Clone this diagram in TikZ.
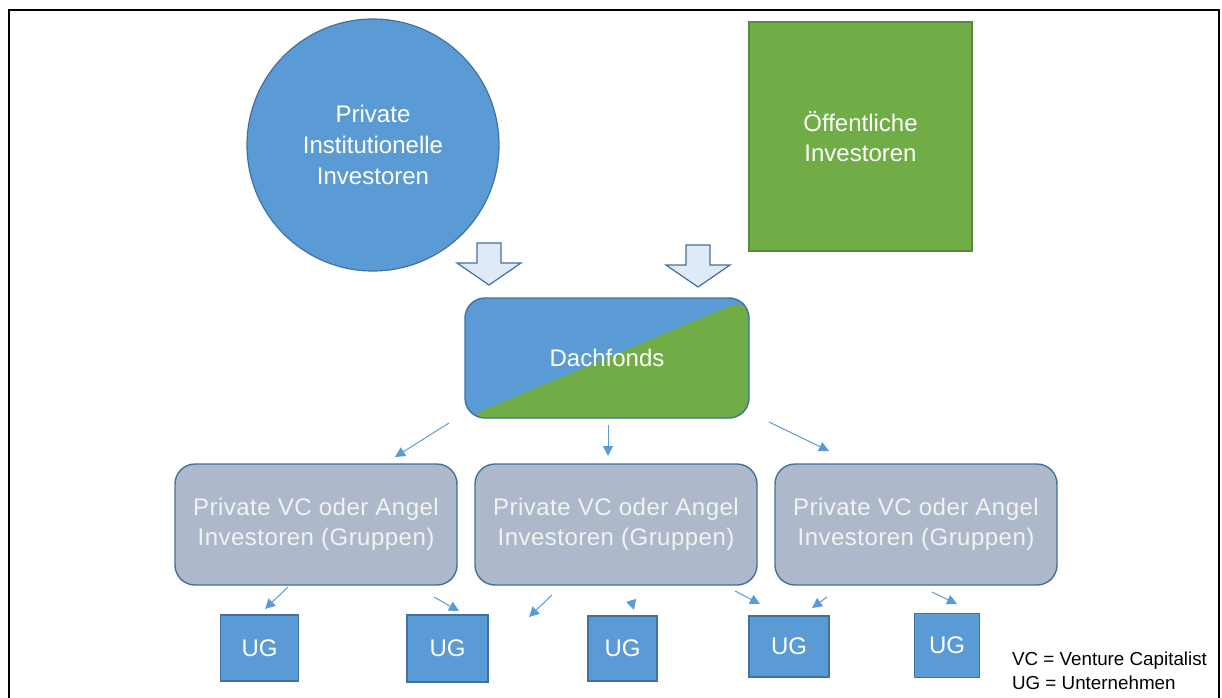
\documentclass[tikz,border=0pt]{standalone}
\usepackage{fontspec}
\setmainfont{Liberation Sans}
\usepackage{tikz}
\usetikzlibrary{arrows.meta,positioning}
\definecolor{ofblau}{HTML}{5B9BD5}
\definecolor{ofgruen}{HTML}{70AD47}
\definecolor{ofrand}{HTML}{41719C}
\definecolor{ofgrau}{HTML}{ADB9CA}
\definecolor{ofhell}{HTML}{DEEBF7}
\tikzset{
  kreis/.style={circle,fill=ofblau,draw=ofrand,line width=0.6pt,minimum size=126pt,text=white,align=center,font=\fontsize{12}{15.5}\selectfont},
  quadrat/.style={rectangle,fill=ofgruen,draw=ofgruen!80!black,line width=0.6pt,text=white,align=center,font=\fontsize{12}{15}\selectfont},
  vcbox/.style={rectangle,rounded corners=10pt,fill=ofgrau,draw=ofrand,line width=0.7pt,minimum width=141pt,minimum height=60.5pt,text=white!95!black,align=center,font=\fontsize{12}{15}\selectfont\addfontfeature{LetterSpace=2}},
  ugbox/.style={rectangle,fill=ofblau,draw=ofrand,line width=0.6pt,text=white,font=\fontsize{12}{15}\selectfont},
  pfeil/.style={draw=ofblau,line width=0.5pt,-{Triangle[length=5pt,width=5pt]}},
  blockpfeil/.style={fill=ofhell,draw=ofrand,line width=0.6pt,line join=miter}
}
% Blockpfeil nach unten: oberes Ende der Mitte
\newcommand{\blockpfeil}[1]{%
  \draw[blockpfeil] ($(#1)+(-12,0)$) -- ($(#1)+(12,0)$) -- ($(#1)+(12,20)$) -- ($(#1)+(32,20)$)
    -- ($(#1)+(0,42)$) -- ($(#1)+(-32,20)$) -- ($(#1)+(-12,20)$) -- cycle;}
\usetikzlibrary{calc}
\begin{document}
\begin{tikzpicture}[x=0.5pt,y=-0.5pt]
\useasboundingbox (0,0) rectangle (1222,697);
\draw[line width=1pt] (9,10) rectangle (1219,730);

% Investoren
\node[kreis] (priv) at (373,145) {Private\\Institutionelle\\Investoren};
\node[quadrat,minimum width=111.5pt,minimum height=114.5pt] (oeff) at (860.5,136.5) {\"Offentliche\\Investoren};

% Blockpfeile
\coordinate (bp1) at (489,243);
\coordinate (bp2) at (698,245);
\blockpfeil{bp1}
\blockpfeil{bp2}

% Dachfonds
\node[rectangle,rounded corners=10pt,fill=ofblau,draw=ofrand,line width=0.7pt,
  minimum width=142pt,minimum height=60pt,text=white,font=\fontsize{12}{15}\selectfont,
  path picture={\fill[ofgruen] (path picture bounding box.south west) -- (path picture bounding box.north east)
    -- (path picture bounding box.south east) -- cycle;}] (dach) at (607,358) {Dachfonds};

% VC / Angel
\node[vcbox] (vc1) at (316,524.5) {Private VC oder Angel\\Investoren (Gruppen)};
\node[vcbox] (vc2) at (616,524.5) {Private VC oder Angel\\Investoren (Gruppen)};
\node[vcbox] (vc3) at (916,524.5) {Private VC oder Angel\\Investoren (Gruppen)};

% Unternehmen
\node[ugbox,minimum width=39pt,minimum height=33pt] (ug1) at (259.5,648) {UG};
\node[ugbox,minimum width=40.5pt,minimum height=33.5pt] (ug2) at (447.5,648.5) {UG};
\node[ugbox,minimum width=34.5pt,minimum height=32.5pt] (ug3) at (622.5,648.5) {UG};
\node[ugbox,minimum width=40pt,minimum height=30.5pt] (ug4) at (789,646.5) {UG};
\node[ugbox,minimum width=32.5pt,minimum height=32pt] (ug5) at (947,645.5) {UG};

% Legende
\node[anchor=west,font=\fontsize{9.4}{11}\selectfont] (leg1) at (1005,661) {VC = Venture Capitalist};
\node[anchor=west,font=\fontsize{9.4}{11}\selectfont] (leg2) at (1005,683) {UG = Unternehmen};

% Pfeile Dachfonds -> VC
\coordinate (d1) at (449,423); \coordinate (v1) at (395,457);
\coordinate (d2) at (608,425); \coordinate (v2) at (608,456);
\coordinate (d3) at (769,422); \coordinate (v3) at (829,451);
\draw[pfeil] (d1) -- (v1);
\draw[pfeil] (d2) -- (v2);
\draw[pfeil] (d3) -- (v3);

% Pfeile VC -> UG
\coordinate (a1) at (288,587); \coordinate (b1) at (265,609);
\coordinate (a2) at (434,597); \coordinate (b2) at (459,611);
\coordinate (a3) at (552,595); \coordinate (b3) at (529,617);
\coordinate (a4) at (631,600); \coordinate (b4) at (634,610);
\coordinate (a5) at (735,591); \coordinate (b5) at (760,604);
\coordinate (a6) at (827,597); \coordinate (b6) at (812,608);
\coordinate (a7) at (932,592); \coordinate (b7) at (957,604);
\foreach \i in {1,...,7}
  \draw[pfeil] (a\i) -- (b\i);
\end{tikzpicture}
\end{document}
